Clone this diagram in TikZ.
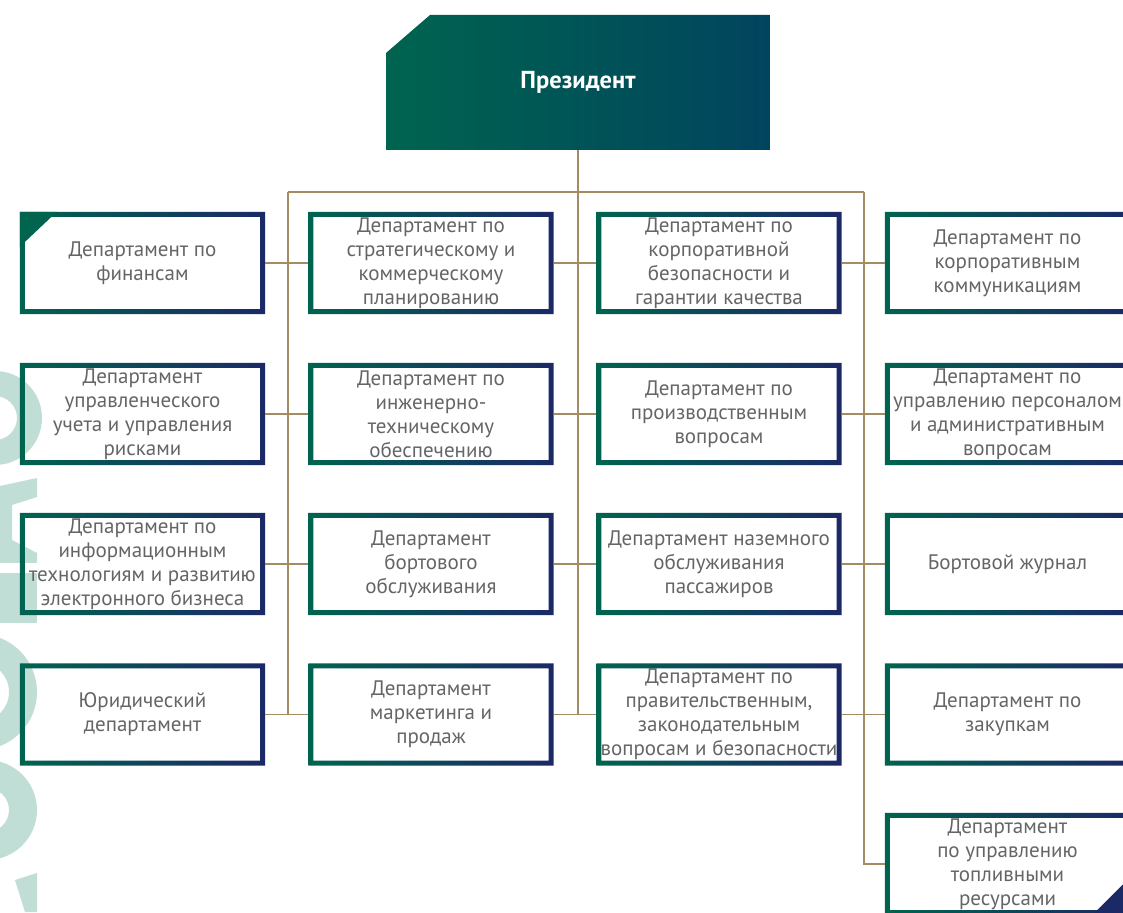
\documentclass[tikz,border=0pt]{standalone}
\usepackage{fontspec}
\setmainfont{PT Sans}
\usetikzlibrary{calc}
\definecolor{aerogreen}{HTML}{00644F}
\definecolor{aeroteal}{HTML}{01445E}
\definecolor{aeronavy}{HTML}{1B2966}
\definecolor{deptgray}{HTML}{646567}
\definecolor{linktan}{HTML}{A38B62}
\definecolor{wmark}{HTML}{C0DDD6}
\tikzset{
  dept/.style={rectangle, minimum width=245pt, minimum height=102pt, inner sep=0pt,
    align=center, text=deptgray, font=\fontsize{21}{24}\selectfont},
  presbox/.style={rectangle, minimum width=384pt, minimum height=135pt,
    text=white, font=\bfseries\fontsize{24.5}{28}\selectfont,
    path picture={\shade[left color=aerogreen, middle color=aerogreen, right color=aeroteal]
      ($(path picture bounding box.north west)+(0,-38)$) -- ($(path picture bounding box.north west)+(44,0)$)
      -- (path picture bounding box.north east) -- (path picture bounding box.south east)
      -- (path picture bounding box.south west) -- cycle;}},
  frame/.style={left color=aerogreen, right color=aeronavy, even odd rule},
  link/.style={linktan, line width=1.8pt},
}

\begin{document}
\begin{tikzpicture}[x=1pt,y=1pt]
\useasboundingbox (0,0) rectangle (1123,912);

% watermark at the left edge
\fill[wmark, even odd rule] (-5,494) circle (47) (-5,494) circle (22);
\fill[wmark] (0,426) -- (37,434) -- (37,415) -- (12,407) -- (12,372) -- (37,359) -- (37,349) -- (0,349) -- cycle;
\fill[wmark] (0,289) rectangle (37,339);
\fill[wmark, even odd rule] (-21,220) circle (58) (-21,220) circle (30);
\fill[wmark, even odd rule] (-13,102) circle (50) (-13,102) circle (22);
\fill[wmark] (15,32) -- (37,39) -- (37,0) -- (25,0) -- cycle;

% president
\node[presbox] (pres) at (578,829.5) {Президент};

% departments
\node[dept] (a1) at (142.5,649) {Департамент по\\финансам};
\node[dept] (a2) at (142.5,498) {Департамент\\управленческого\\учета и управления\\рисками};
\node[dept] (a3) at (142.5,348) {Департамент по\\информационным\\технологиям и развитию\\электронного бизнеса};
\node[dept] (a4) at (142.5,197.5) {Юридический\\департамент};

\node[dept] (b1) at (431,649) {Департамент по\\стратегическому и\\коммерческому\\планированию};
\node[dept] (b2) at (431,498) {Департамент по\\инженерно-\\техническому\\обеспечению};
\node[dept] (b3) at (431,348) {Департамент\\бортового\\обслуживания};
\node[dept] (b4) at (431,197.5) {Департамент\\маркетинга и\\продаж};

\node[dept] (c1) at (719,649) {Департамент по\\корпоративной\\безопасности и\\гарантии качества};
\node[dept] (c2) at (719,498) {Департамент по\\производственным\\вопросам};
\node[dept] (c3) at (719,348) {Департамент наземного\\обслуживания\\пассажиров};
\node[dept] (c4) at (719,197.5) {Департамент по\\правительственным,\\законодательным\\вопросам и безопасности};

\node[dept] (d1) at (1007.5,649) {Департамент по\\корпоративным\\коммуникациям};
\node[dept] (d2) at (1007.5,498) {Департамент по\\управлению персоналом\\и административным\\вопросам};
\node[dept] (d3) at (1007.5,348) {Бортовой журнал};
\node[dept] (d4) at (1007.5,197.5) {Департамент по\\закупкам};
\node[dept] (d5) at (1007.5,48) {Департамент\\по управлению\\топливными\\ресурсами};

% frames
\foreach \n in {a1,a2,a3,a4,b1,b2,b3,b4,c1,c2,c3,c4,d1,d2,d3,d4,d5}
  \shade[frame] (\n.south west) rectangle (\n.north east)
    ($(\n.south west)+(5,5)$) rectangle ($(\n.north east)+(-5,-5)$);

% corner marks
\fill[aerogreen] (a1.north west) -- ++(37,0) -- ++(-37,-35) -- cycle;
\fill[aeronavy] ($(d5.south east)+(-38,0)$) -- (d5.south east) -- ++(0,38) -- cycle;

% links
\coordinate (barL) at (288,720);
\coordinate (barR) at (864,720);
\draw[link] (barL) -- (barR);
\draw[link] (pres.south) -- (pres.south |- barL);
\draw[link] (barL) -- (barL |- a4.east);
\draw[link] (pres.south |- barL) -- (pres.south |- b4.east);
\draw[link] (barR) -- (barR |- d5.west) -- (d5.west);
\foreach \i in {1,...,4} {
  \draw[link] (a\i.east) -- (b\i.west);
  \draw[link] (b\i.east) -- (c\i.west);
  \draw[link] (c\i.east) -- (d\i.west);
}
\end{tikzpicture}
\end{document}
